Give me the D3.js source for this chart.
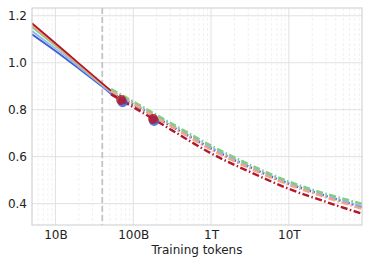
<!DOCTYPE html>
<html>
<head>
<meta charset="utf-8">
<script src="https://cdn.jsdelivr.net/npm/d3@7"></script>
<style>
  body { margin: 0; background: #fff; }
  svg text { font-family: "DejaVu Sans", sans-serif; fill: #222; }
</style>
</head>
<body>
<div id="chart"></div>
<script>
// data
const seriesNames = ["red", "salmon", "green", "lightblue", "blue"];
const seriesColors = ["#b2182b", "#f4a582", "#7fd07f", "#92b4f2", "#3f5fd0"];

// fitted range (solid)
const fitTokens = [5e9, 1e10, 2e10, 4e10, 5.2e10];
const fitRed = [1.168, 1.083, 0.997, 0.912, 0.880];
const fitSalmon = [1.160, 1.077, 0.992, 0.908, 0.878];
const fitGreen = [1.152, 1.072, 0.990, 0.907, 0.880];
const fitLightBlue = [1.135, 1.060, 0.983, 0.902, 0.872];
const fitBlue = [1.121, 1.050, 0.975, 0.898, 0.866];

// extrapolation (dash-dot)
const extTokens = [5.2e10, 1e11, 3.16e11, 1e12, 3.16e12, 1e13, 3.16e13, 8.7e13];
const extRed = [0.865, 0.811, 0.712, 0.614, 0.535, 0.463, 0.405, 0.357];
const extSalmon = [0.878, 0.825, 0.727, 0.630, 0.550, 0.480, 0.424, 0.378];
const extGreen = [0.888, 0.835, 0.740, 0.647, 0.566, 0.494, 0.440, 0.400];
const extLightBlue = [0.880, 0.830, 0.733, 0.640, 0.558, 0.488, 0.433, 0.390];
const extBlue = [0.870, 0.822, 0.728, 0.635, 0.555, 0.485, 0.430, 0.385];

// highlighted points
const markerTokens = [7.3e10, 1.85e11, 7e10, 1.8e11];
const markerLoss = [0.832, 0.752, 0.841, 0.760];
const markerSeries = ["blue", "blue", "red", "red"];

const cutoffTokens = 4e10;

const xTicks = [1e10, 1e11, 1e12, 1e13];
const xTickLabels = ["10B", "100B", "1T", "10T"];
const yTicks = [0.4, 0.6, 0.8, 1.0, 1.2];

const fits = [fitRed, fitSalmon, fitGreen, fitLightBlue, fitBlue];
const exts = [extRed, extSalmon, extGreen, extLightBlue, extBlue];

const width = 371, height = 266;
const margin = {top: 8, right: 9, bottom: 41, left: 32};
const innerW = width - margin.left - margin.right;
const innerH = height - margin.top - margin.bottom;

const svg = d3.select("#chart").append("svg")
    .attr("width", width)
    .attr("height", height);

const g = svg.append("g")
    .attr("transform", "translate(" + margin.left + "," + margin.top + ")");

const x = d3.scaleLog().domain([5e9, 8.7e13]).range([0, innerW]);
const y = d3.scaleLinear().domain([0.309, 1.233]).range([innerH, 0]);
const color = d3.scaleOrdinal().domain(seriesNames).range(seriesColors);

// minor x grid
const minorTicks = x.ticks().filter(t => !xTicks.includes(t));
g.append("g")
    .selectAll("line")
    .data(minorTicks)
    .join("line")
    .attr("x1", d => x(d)).attr("x2", d => x(d))
    .attr("y1", 0).attr("y2", innerH)
    .attr("stroke", "#ededed")
    .attr("stroke-width", 0.8)
    .attr("stroke-dasharray", "3,2");

// major grid
g.append("g")
    .selectAll("line")
    .data(xTicks)
    .join("line")
    .attr("x1", d => x(d)).attr("x2", d => x(d))
    .attr("y1", 0).attr("y2", innerH)
    .attr("stroke", "#dedede")
    .attr("stroke-width", 0.9);

g.append("g")
    .selectAll("line")
    .data(yTicks)
    .join("line")
    .attr("x1", 0).attr("x2", innerW)
    .attr("y1", d => y(d)).attr("y2", d => y(d))
    .attr("stroke", "#dedede")
    .attr("stroke-width", 0.9);

// cutoff line
g.append("line")
    .attr("x1", x(cutoffTokens)).attr("x2", x(cutoffTokens))
    .attr("y1", 0).attr("y2", innerH)
    .attr("stroke", "#c4c4c4")
    .attr("stroke-width", 1.8)
    .attr("stroke-dasharray", "6,3");

const line = d3.line()
    .x(d => x(d[0]))
    .y(d => y(d[1]))
    .curve(d3.curveMonotoneX);

svg.append("clipPath").attr("id", "clip")
    .append("rect").attr("width", innerW).attr("height", innerH);

const plot = g.append("g").attr("clip-path", "url(#clip)");

// solid fits
plot.selectAll(".fit")
    .data(fits.map((v, i) => ({name: seriesNames[i], pts: fitTokens.map((t, j) => [t, v[j]])})).reverse())
    .join("path")
    .attr("class", "fit")
    .attr("d", d => line(d.pts))
    .attr("fill", "none")
    .attr("stroke", d => color(d.name))
    .attr("stroke-width", 1.8);

// dash-dot extrapolation
plot.selectAll(".ext")
    .data(exts.map((v, i) => ({name: seriesNames[i], pts: extTokens.map((t, j) => [t, v[j]])})).reverse())
    .join("path")
    .attr("class", "ext")
    .attr("d", d => line(d.pts))
    .attr("fill", "none")
    .attr("stroke", d => color(d.name))
    .attr("stroke-width", 2.4)
    .attr("stroke-dasharray", "7,2.5,1.5,2.5");

// markers
plot.selectAll(".marker")
    .data(markerTokens.map((t, i) => ({t: t, v: markerLoss[i], name: markerSeries[i]})))
    .join("circle")
    .attr("class", "marker")
    .attr("cx", d => x(d.t))
    .attr("cy", d => y(d.v))
    .attr("r", 5)
    .attr("fill", d => color(d.name))
    .attr("fill-opacity", 0.85);

// frame
g.append("rect")
    .attr("width", innerW).attr("height", innerH)
    .attr("fill", "none")
    .attr("stroke", "#cccccc")
    .attr("stroke-width", 1);

// tick labels
const xAxis = g.append("g")
    .attr("transform", "translate(0," + innerH + ")")
    .call(d3.axisBottom(x).tickValues(xTicks).tickFormat((d, i) => xTickLabels[i]).tickSize(0).tickPadding(5));
xAxis.select(".domain").remove();
xAxis.selectAll("text").attr("font-size", 12).attr("font-family", null).attr("fill", "#222");

const yAxis = g.append("g")
    .call(d3.axisLeft(y).tickValues(yTicks).tickFormat(d3.format(".1f")).tickSize(0).tickPadding(5));
yAxis.select(".domain").remove();
yAxis.selectAll("text").attr("font-size", 12).attr("font-family", null).attr("fill", "#222");

svg.append("text")
    .attr("x", margin.left + innerW / 2)
    .attr("y", 254)
    .attr("text-anchor", "middle")
    .attr("font-size", 12)
    .text("Training tokens");
</script>
</body>
</html>
